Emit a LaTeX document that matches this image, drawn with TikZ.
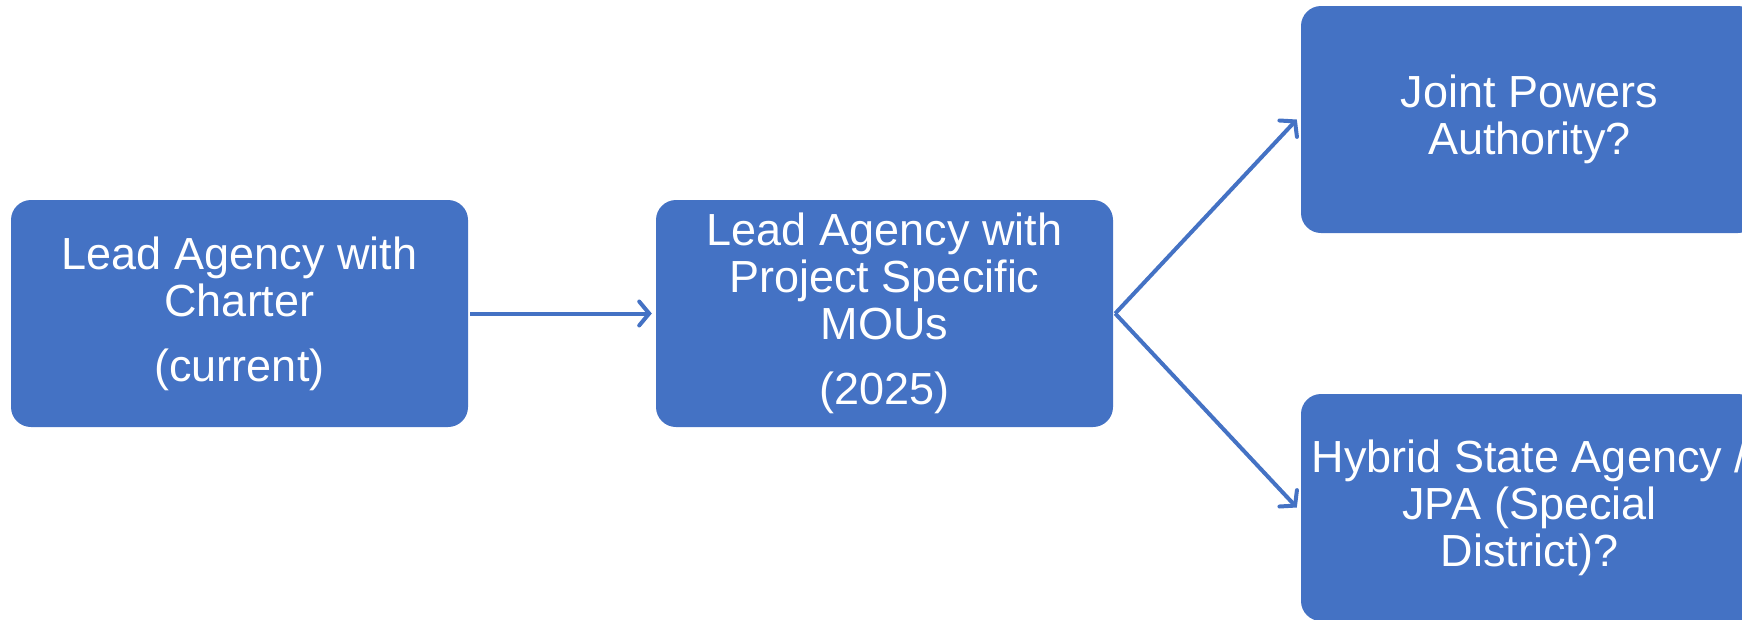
\documentclass[tikz,border=0pt]{standalone}
\usepackage{fontspec}
\setmainfont{Liberation Sans}
\usetikzlibrary{arrows.meta}
\definecolor{boxblue}{HTML}{4472C4}
\tikzset{
  stagebox/.style={draw=none, fill=boxblue, rounded corners=20pt, text=white,
    minimum width=457pt, minimum height=227pt, align=center, inner sep=0pt,
    font=\fontsize{45}{47}\selectfont},
  arr/.style={draw=boxblue, line width=4pt, -{Straight Barb[length=10pt,width=24pt,line cap=round]}}
}
\begin{document}
\begin{tikzpicture}[x=1pt,y=-1pt]
\useasboundingbox (0,0) rectangle (1742,619);
\node[stagebox] (b1) at (239.5,313.5) {Lead Agency with\\Charter\\[18pt](current)};
\node[stagebox] (b2) at (884.5,313.5) {Lead Agency with\\Project Specific\\MOUs\\[18pt](2025)};
\node[stagebox] (b3) at (1529.5,119.5) {Joint Powers\\Authority?};
\node[stagebox] (b4) at (1529.5,507.5) {Hybrid State Agency /\\JPA (Special\\District)?};
\draw[arr] ([xshift=2pt]b1.east) -- ([xshift=-4pt]b2.west);
\draw[arr] ([xshift=2pt]b2.east) -- ([xshift=-4pt]b3.west);
\draw[arr] ([xshift=2pt]b2.east) -- ([xshift=-4pt]b4.west);
\end{tikzpicture}
\end{document}
